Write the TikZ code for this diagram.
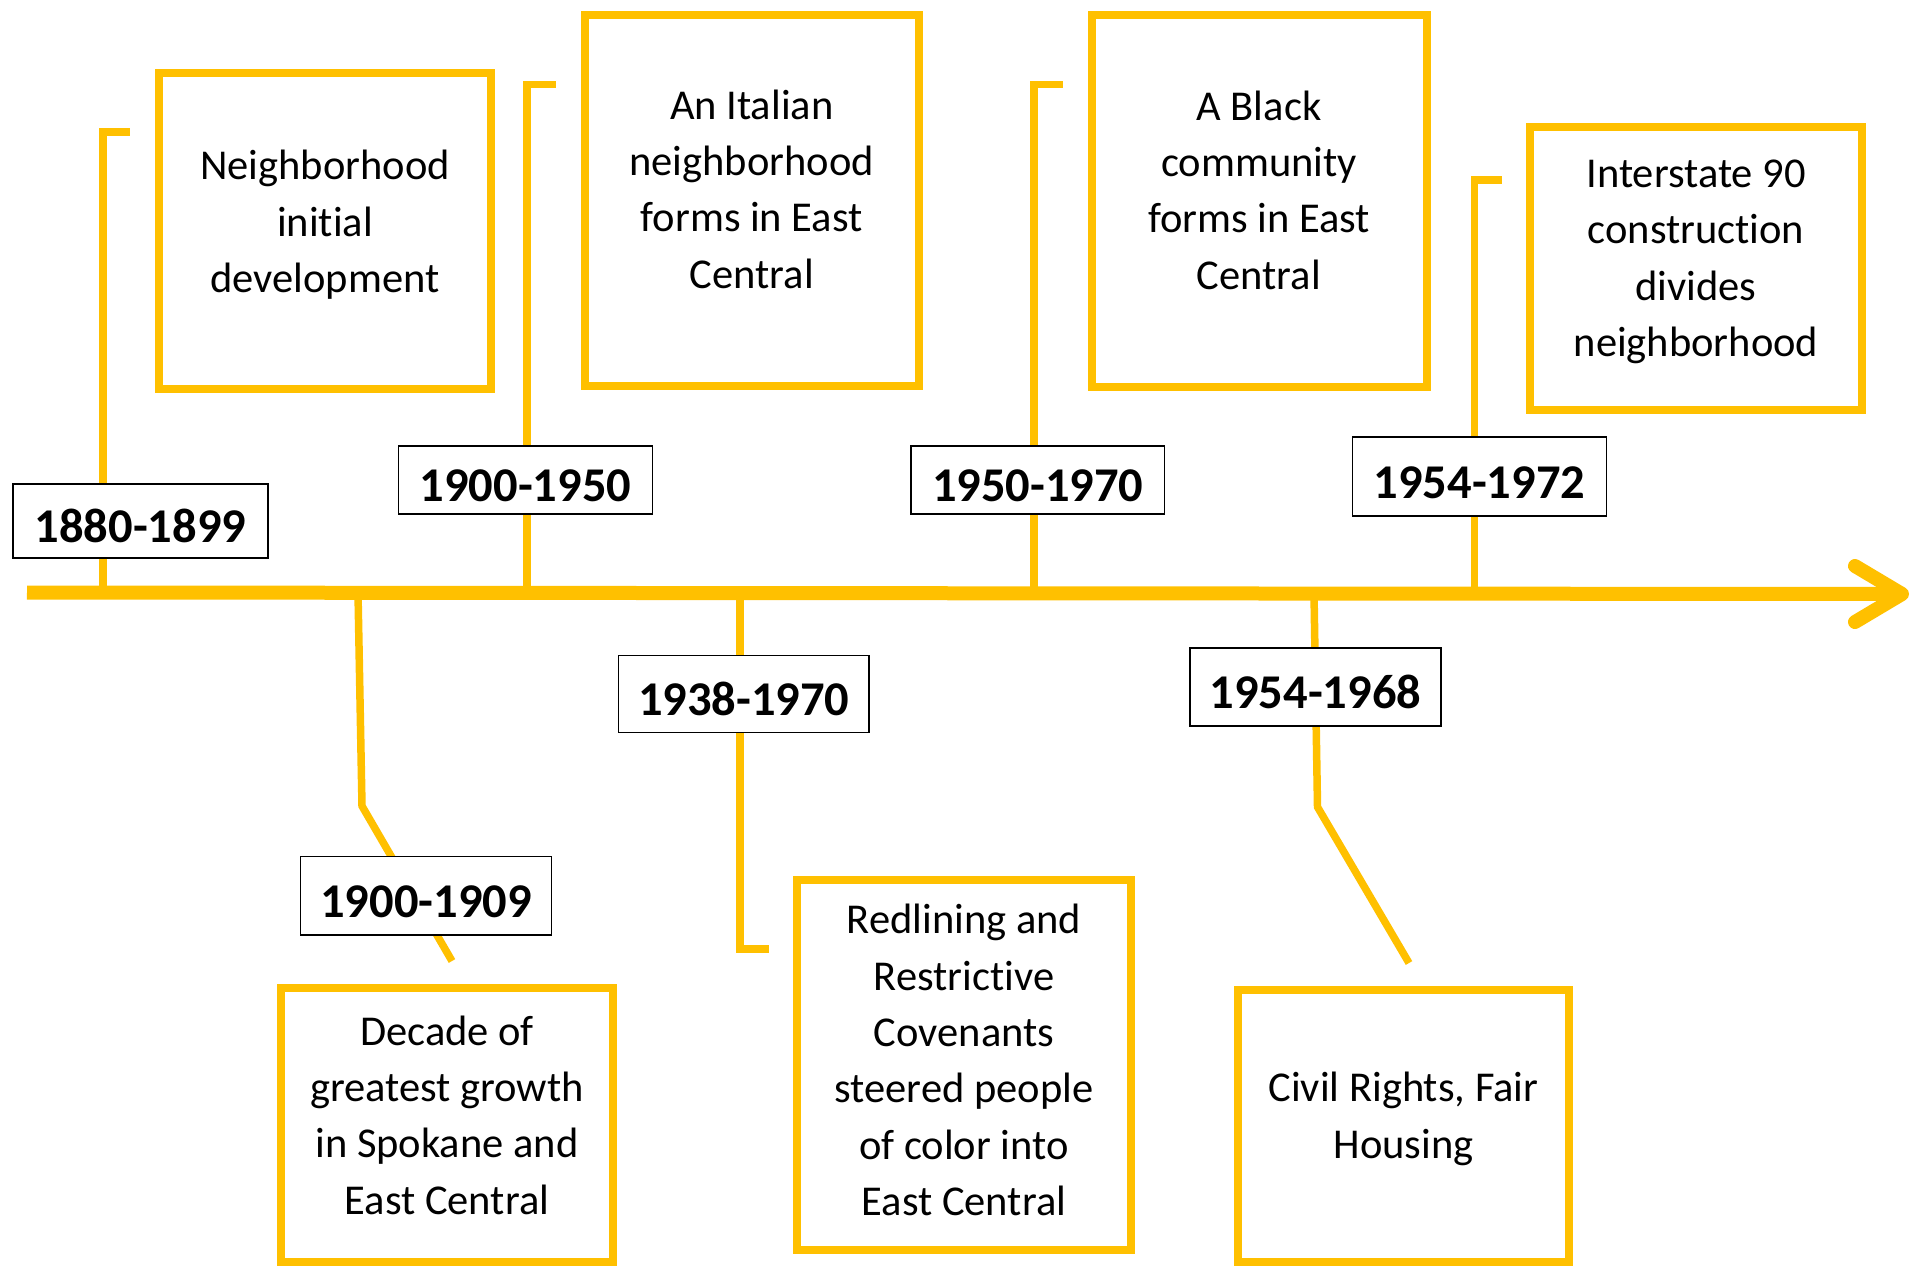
\documentclass[tikz,border=0pt]{standalone}
\usepackage{fontspec}
\setmainfont{Carlito}[Ligatures=NoCommon]
\definecolor{gold}{HTML}{FFC000}
\begin{document}
\begin{tikzpicture}[x=1pt,y=-1pt,
  eventbox/.style={draw=gold, line width=8pt, inner sep=0pt},
  eventtext/.style={font=\fontsize{42.5}{56.4}\selectfont, align=center, inner sep=0pt, text=black},
  datelabel/.style={draw=black, line width=1.3pt, fill=white, inner sep=0pt,
    text height=43pt, text depth=0pt,
    font=\fontsize{48.5}{56}\selectfont\bfseries, text=black},
  conn/.style={draw=gold, line width=7.5pt},
  axisline/.style={draw=gold, line width=14pt}]
\useasboundingbox (0,0) rectangle (1911,1267);

% axis with arrow
\coordinate (a0) at (27,592.5);
\coordinate (tip) at (1902,594);
\coordinate (armT) at (1855,566);
\coordinate (armB) at (1855,622);
\draw[axisline] (a0) -- (1895,594);
\draw[axisline, line cap=round, line join=round] (armT) -- (tip) -- (armB);

% anchor points on axis
\coordinate (p1) at (103,593);
\coordinate (p2) at (527,593);
\coordinate (p3) at (1034,593);
\coordinate (p4) at (1474.5,594);
\coordinate (q1) at (358,593);
\coordinate (q2) at (740,593);
\coordinate (q3) at (1314,594);

% bracket corners and free ends
\coordinate (c1a) at (103,132);   \coordinate (c1b) at (130,132);
\coordinate (c2a) at (527,84.5);  \coordinate (c2b) at (556,84.5);
\coordinate (c3a) at (1034,84.5); \coordinate (c3b) at (1063,84.5);
\coordinate (c4a) at (1474.5,180);\coordinate (c4b) at (1501.5,180);
\coordinate (d1a) at (362,806);   \coordinate (d1b) at (452,961);
\coordinate (d2a) at (740,949);   \coordinate (d2b) at (768.5,949);
\coordinate (d3a) at (1317.5,807);\coordinate (d3b) at (1409,963);

\draw[conn] (p1) -- (c1a) -- (c1b);
\draw[conn] (p2) -- (c2a) -- (c2b);
\draw[conn] (p3) -- (c3a) -- (c3b);
\draw[conn] (p4) -- (c4a) -- (c4b);
\draw[conn] (q1) -- (d1a) -- (d1b);
\draw[conn] (q2) -- (d2a) -- (d2b);
\draw[conn] (q3) -- (d3a) -- (d3b);

% date labels
\node[datelabel, minimum width=255, minimum height=74] (L1) at (140.5,521) {1880-1899};
\node[datelabel, minimum width=254, minimum height=68] (L2) at (525.5,480) {1900-1950};
\node[datelabel, minimum width=253.5, minimum height=68] (L3) at (1037.75,480) {1950-1970};
\node[datelabel, minimum width=254, minimum height=79] (L4) at (1479.5,476.5) {1954-1972};
\node[datelabel, minimum width=251, minimum height=78.5] (L5) at (426,895.75) {1900-1909};
\node[datelabel, minimum width=250.5, minimum height=77] (L6) at (743.75,694) {1938-1970};
\node[datelabel, minimum width=251, minimum height=78] (L7) at (1315.5,687) {1954-1968};

% event boxes
\node[eventbox, minimum width=332, minimum height=316] (B1) at (325,231) {};
\node[eventbox, minimum width=333.5, minimum height=371] (B3) at (751.75,200.5) {};
\node[eventbox, minimum width=335, minimum height=372] (B4) at (1259,201) {};
\node[eventbox, minimum width=332, minimum height=283] (B5) at (1696,268.5) {};
\node[eventbox, minimum width=332.5, minimum height=274] (B2) at (447,1125) {};
\node[eventbox, minimum width=333.5, minimum height=369.5] (B7) at (964,1065) {};
\node[eventbox, minimum width=331, minimum height=272] (B6) at (1403.5,1126) {};

% event texts
\node[eventtext] (T1) at (325,225) {Neighborhood\\initial\\development};
\node[eventtext] (T3) at (751.75,189) {An Italian\\neighborhood\\forms in East\\Central};
\node[eventtext] (T4) at (1259,190) {A Black\\community\\forms in East\\Central};
\node[eventtext] (T5) at (1696,262) {Interstate 90\\construction\\divides\\neighborhood};
\node[eventtext] (T2) at (447,1115) {Decade of\\greatest growth\\in Spokane and\\East Central};
\node[eventtext] (T7) at (964,1060) {Redlining and\\Restrictive\\Covenants\\steered people\\of color into\\East Central};
\node[eventtext] (T6) at (1403.5,1119) {Civil Rights, Fair\\Housing};
\end{tikzpicture}
\end{document}
